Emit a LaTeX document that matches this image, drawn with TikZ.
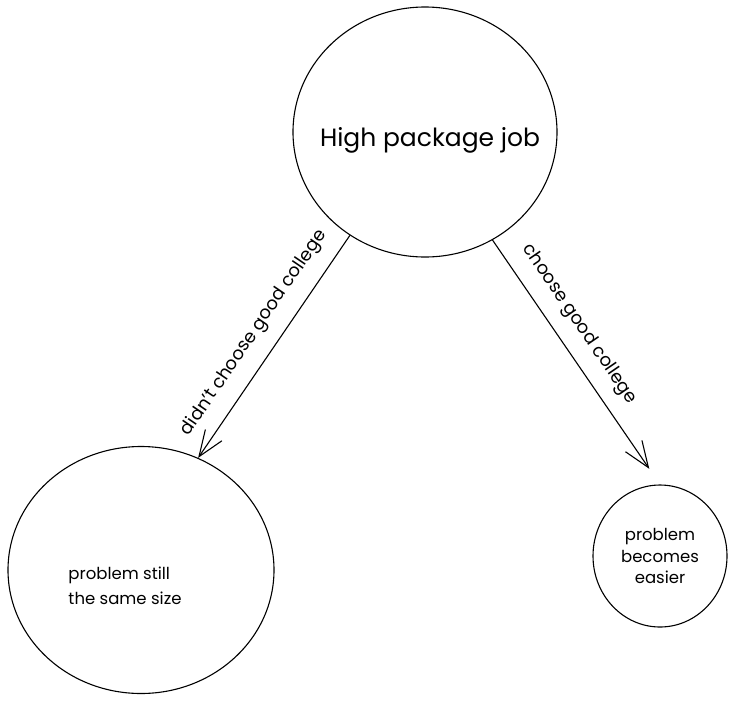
\documentclass[tikz,border=0pt]{standalone}
\usepackage{fontspec}
\setmainfont{Poppins}
\usetikzlibrary{positioning, arrows.meta, shapes.geometric}

\begin{document}
\begin{tikzpicture}[x=1pt, y=-1pt, line width=1.1pt,
    bubble/.style={draw, ellipse, inner sep=0pt},
    arr/.style={-{Straight Barb[length=26pt, width=20pt]}},
    tag/.style={font=\fontsize{18}{20}\selectfont, sloped, above=11pt}]

    \useasboundingbox (0,0) rectangle (749,705);

    % --- BUBBLES ---
    % Top bubble
    \node[bubble, minimum width=264pt, minimum height=250pt,
          label={[font=\fontsize{25}{28}\selectfont, xshift=5pt, yshift=-8pt]center:High package job}]
          (job) at (425,132) {};

    % Bottom left bubble
    \node[bubble, minimum width=266pt, minimum height=247pt,
          label={[font=\fontsize{16.5}{25}\selectfont, align=left, xshift=-16pt, yshift=-16pt]center:{problem still\\the same size}}]
          (same) at (141,570) {};

    % Bottom right bubble
    \node[bubble, minimum width=134pt, minimum height=142pt,
          font=\fontsize{16.5}{21.5}\selectfont, align=center]
          (easier) at (660,556) {problem\\becomes\\easier};

    % --- ARROWS ---
    \draw[arr] (job.234) -- (same.63)
        node[tag, midway] {didn't choose good college};
    \draw[arr, shorten >=19pt] (job.302) -- (easier.90)
        node[tag, pos=0.4] {choose good college};

\end{tikzpicture}
\end{document}
